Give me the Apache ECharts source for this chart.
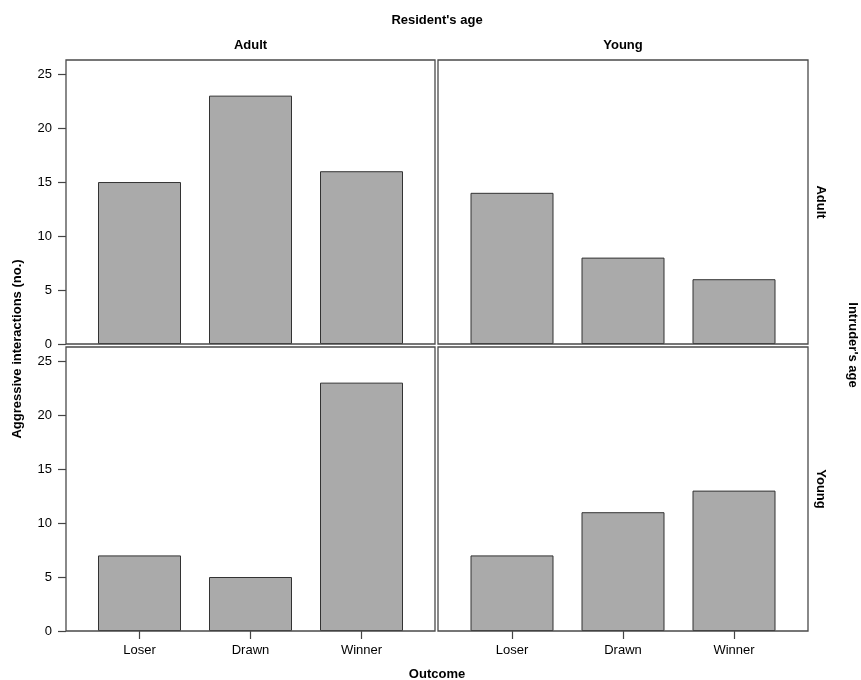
<!DOCTYPE html>
<html>
<head>
<meta charset="utf-8">
<script src="https://cdn.jsdelivr.net/npm/echarts@6/dist/echarts.min.js"></script>
<style>html,body{margin:0;padding:0;background:#fff}#c{width:861px;height:680px}</style>
</head>
<body>
<div id="c"></div>
<script>
var categories = ['Loser', 'Drawn', 'Winner'];
var residentAges = ['Adult', 'Young'];
var intruderAges = ['Adult', 'Young'];
// values[intruder][resident]
var adultIntruderAdultResident = [15, 23, 16];
var adultIntruderYoungResident = [14, 8, 6];
var youngIntruderAdultResident = [7, 5, 23];
var youngIntruderYoungResident = [7, 11, 13];
var yTicks = [0, 5, 10, 15, 20, 25];
var yMax = 26.3;

var panelValues = [
  [adultIntruderAdultResident, adultIntruderYoungResident],
  [youngIntruderAdultResident, youngIntruderYoungResident]
];

var FONT = '"Liberation Sans", Arial, Helvetica, sans-serif';
var frameX = [[66, 435], [438, 808]];
var frameY = [[60, 344], [347, 631]];
var band = 111;

var grids = [], xAxes = [], yAxes = [], series = [];
var gi = 0;
for (var r = 0; r < 2; r++) {
  for (var c = 0; c < 2; c++) {
    var fx = frameX[c], fy = frameY[r];
    // frame grid
    grids.push({left: fx[0], top: fy[0], width: fx[1] - fx[0], height: fy[1] - fy[0],
      show: true, borderColor: '#4a4a4a', borderWidth: 1.3, backgroundColor: 'transparent', z: 3});
    xAxes.push({gridIndex: gi, type: 'value', show: false});
    yAxes.push({gridIndex: gi, type: 'value', show: false});
    gi++;
    // data grid
    var center = (fx[0] + fx[1]) / 2;
    var dl = center - band * 1.5;
    grids.push({left: dl, top: fy[0], width: band * 3, height: fy[1] - fy[0], show: false});
    xAxes.push({
      gridIndex: gi, type: 'category', data: categories,
      boundaryGap: true,
      axisLine: {show: false},
      axisTick: {show: r === 1, alignWithLabel: true, length: 8, lineStyle: {color: '#444', width: 1.2}},
      axisLabel: {show: r === 1, margin: 13, fontFamily: FONT, fontSize: 13, color: '#000'}
    });
    yAxes.push({
      gridIndex: gi, type: 'value', min: 0, max: yMax, interval: 5,
      offset: dl - fx[0],
      splitLine: {show: false},
      axisLine: {show: false},
      axisTick: {show: c === 0, length: 8, customValues: yTicks, lineStyle: {color: '#444', width: 1.2}},
      axisLabel: {show: c === 0, margin: 14, fontFamily: FONT, fontSize: 13, color: '#000',
        customValues: yTicks}
    });
    series.push({
      type: 'bar', xAxisIndex: gi, yAxisIndex: gi,
      data: panelValues[r][c],
      barWidth: 83,
      itemStyle: {color: '#aaaaaa', borderColor: '#333333', borderWidth: 1},
      silent: true
    });
    gi++;
  }
}

function txt(x, y, s, rot) {
  return {type: 'text', x: x, y: y, rotation: rot || 0,
    style: {text: s, font: 'bold 13px ' + FONT, fill: '#000', textAlign: 'center', textVerticalAlign: 'middle'}};
}

var graphics = [
  txt(437, 20, "Resident's age"),
  txt(250.5, 45, residentAges[0]),
  txt(623, 45, residentAges[1]),
  txt(821, 202, intruderAges[0], -Math.PI / 2),
  txt(821, 489, intruderAges[1], -Math.PI / 2),
  txt(853, 345, "Intruder's age", -Math.PI / 2),
  txt(17, 349, 'Aggressive interactions (no.)', Math.PI / 2),
  txt(437, 674, 'Outcome')
];

var chart = echarts.init(document.getElementById('c'), null, {renderer: 'canvas'});
chart.setOption({
  animation: false,
  backgroundColor: '#ffffff',
  grid: grids,
  xAxis: xAxes,
  yAxis: yAxes,
  series: series,
  graphic: graphics
});
</script>
</body>
</html>
